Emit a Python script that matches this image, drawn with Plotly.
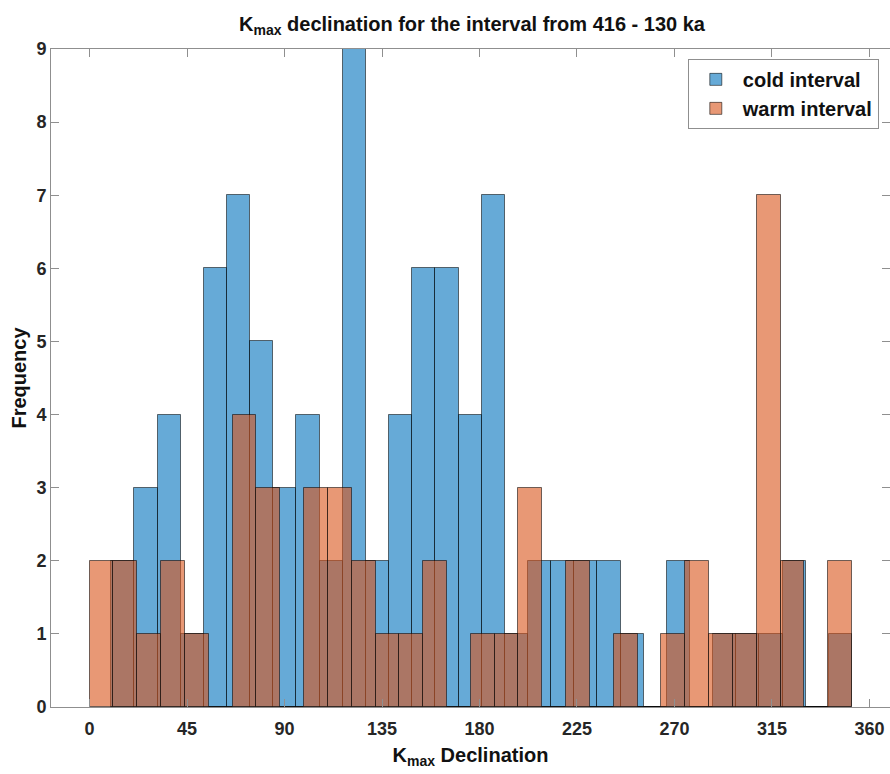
import numpy as np
import plotly.graph_objects as go

# Histogram counts of K_max declination (32 bins per series)
cold_counts = [2, 3, 4, 1, 6, 7, 5, 3, 4, 2, 9, 2, 4, 6, 6, 4,
               7, 1, 2, 2, 2, 2, 1, 0, 2, 0, 1, 1, 1, 2, 0, 1]
warm_counts = [2, 2, 1, 2, 1, 0, 4, 3, 0, 3, 3, 2, 1, 1, 2, 0,
               1, 1, 3, 0, 2, 0, 1, 0, 1, 2, 1, 1, 7, 2, 0, 2]

# Bin limits (degrees): each series is binned between its own data limits
cold_limits = [10.0, 352.0]
warm_limits = [0.0, 352.0]

x_ticks = [0, 45, 90, 135, 180, 225, 270, 315, 360]
y_ticks = list(range(0, 10))


def bin_geometry(counts, limits):
    n = len(counts)
    edges = np.linspace(limits[0], limits[1], n + 1)
    centers = (edges[:-1] + edges[1:]) / 2
    width = edges[1] - edges[0]
    return centers, width


cold_x, cold_w = bin_geometry(cold_counts, cold_limits)
warm_x, warm_w = bin_geometry(warm_counts, warm_limits)

FONT = "Liberation Sans, Arial, Helvetica, sans-serif"
TXT = "#262626"
AXIS = "#8f8f8f"

fig = go.Figure()
fig.add_trace(go.Bar(
    x=cold_x, y=cold_counts, width=cold_w,
    name="cold interval",
    marker=dict(color="rgba(0,114,189,0.6)",
                line=dict(color="rgba(0,0,0,0.55)", width=1)),
))
fig.add_trace(go.Bar(
    x=warm_x, y=warm_counts, width=warm_w,
    name="warm interval",
    marker=dict(color="rgba(217,83,25,0.6)",
                line=dict(color="rgba(0,0,0,0.55)", width=1)),
))

fig.update_layout(
    width=890, height=774,
    margin=dict(l=51, r=0, t=49, b=67),
    paper_bgcolor="white", plot_bgcolor="white",
    barmode="overlay", bargap=0,
    font=dict(family=FONT, color=TXT, size=18, weight="bold"),
    title=dict(
        text="K<sub>max</sub> declination for the interval from 416 - 130 ka",
        x=472 / 890, xref="container", xanchor="center",
        y=1 - 24 / 774, yref="container", yanchor="middle",
        font=dict(family=FONT, size=20, color="#111111", weight="bold"),
    ),
    legend=dict(
        x=0.759, y=0.985, xanchor="left", yanchor="top",
        bgcolor="white", bordercolor=AXIS, borderwidth=1,
        font=dict(family=FONT, size=20, color="#111111", weight="bold"),
        itemwidth=44, tracegroupgap=2,
    ),
    showlegend=True,
)

fig.update_xaxes(
    range=[-17.8, 369.5],
    tickvals=x_ticks,
    ticks="inside", ticklen=8, tickcolor=AXIS, tickwidth=1,
    showline=True, linecolor=AXIS, linewidth=1, mirror="ticks",
    showgrid=False, zeroline=False,
    ticklabelstandoff=5,
    tickfont=dict(family=FONT, size=18, color=TXT, weight="bold"),
    title=dict(text="K<sub>max</sub> Declination", standoff=10,
               font=dict(family=FONT, size=20, color="#111111", weight="bold")),
)
fig.update_yaxes(
    range=[0, 9],
    tickvals=y_ticks,
    ticks="inside", ticklen=8, tickcolor=AXIS, tickwidth=1,
    showline=True, linecolor=AXIS, linewidth=1, mirror="ticks",
    showgrid=False, zeroline=False,
    tickfont=dict(family=FONT, size=18, color=TXT, weight="bold"),
    title=dict(text="Frequency", standoff=4,
               font=dict(family=FONT, size=20, color="#111111", weight="bold")),
)

fig.write_html("out.html")
